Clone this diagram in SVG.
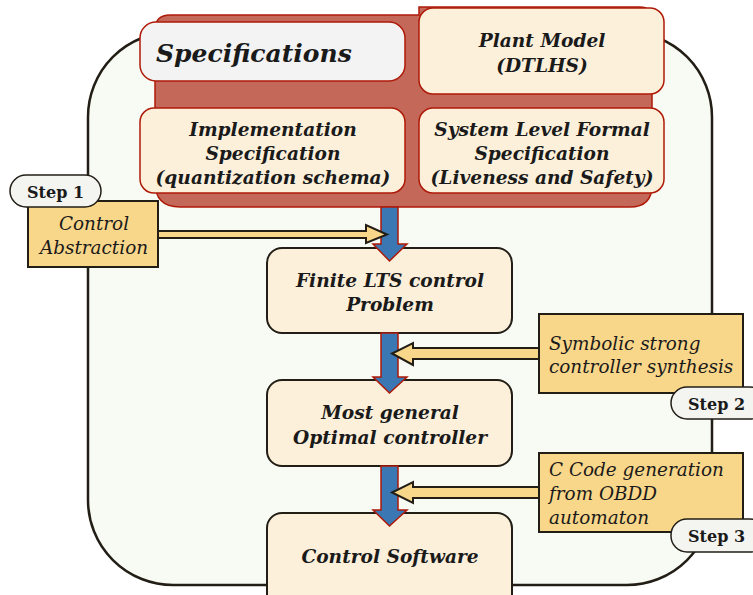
<svg xmlns="http://www.w3.org/2000/svg" width="753" height="595" viewBox="0 0 753 595">
<defs>
<style>
.bg{fill:#F8FBF4;stroke:#221E16;stroke-width:2.5}
.red{fill:#C4685A;stroke:#AE1A08;stroke-width:1.5}
.spec{fill:#F3F3F3;stroke:#AE1A08;stroke-width:1.5}
.rbox{fill:#FCF0DB;stroke:#AE1A08;stroke-width:1.5}
.box{fill:#FCF0DB;stroke:#221E16;stroke-width:2}
.ybox{fill:#F8D68A;stroke:#221E16;stroke-width:2}
.pill{fill:#F4F4F1;stroke:#221E16;stroke-width:1.5}
.blue{fill:#3B77B3;stroke:#AE1A08;stroke-width:1.5}
.yarr{fill:#F8D68A;stroke:#221E16;stroke-width:2}
.bi{font-family:"DejaVu Serif",serif;font-weight:bold;font-style:italic;font-size:18.6px;fill:#1A1A1A;text-anchor:middle}
.it{font-family:"DejaVu Serif",serif;font-style:italic;font-size:18.4px;fill:#1A1A1A}
.step{font-family:"DejaVu Serif",serif;font-weight:bold;font-size:16px;fill:#1A1A1A}
</style>
</defs>
<rect class="bg" x="88" y="32" width="624" height="553" rx="85" ry="85"/>
<g id="spec-panel">
<path class="red" d="M170,15 H419 V7 H640 Q652,7 652,20 V185 Q652,207 630,207 H180 Q155,207 155,182 V30 Q155,15 170,15 Z"/>
</g>
<g id="specifications">
<rect class="spec" x="140" y="22" width="265" height="59" rx="16"/>
<text class="bi" x="156" y="62" style="font-size:25px;text-anchor:start">Specifications</text>
</g>
<g id="plant-model">
<rect class="rbox" x="419" y="8" width="245" height="86" rx="14"/>
<text class="bi" x="542" y="47">Plant Model</text>
<text class="bi" x="542" y="72">(DTLHS)</text>
</g>
<g id="implementation-spec">
<rect class="rbox" x="140" y="108" width="265" height="85" rx="14"/>
<text class="bi" x="273" y="136">Implementation</text>
<text class="bi" x="273" y="160">Specification</text>
<text class="bi" x="273" y="184">(quantization schema)</text>
</g>
<g id="system-spec">
<rect class="rbox" x="419" y="108" width="245" height="85" rx="14"/>
<text class="bi" x="542" y="136">System Level Formal</text>
<text class="bi" x="542" y="160">Specification</text>
<text class="bi" x="542" y="184">(Liveness and Safety)</text>
</g>
<g id="finite-lts">
<rect class="box" x="267" y="248" width="245" height="85" rx="15"/>
<text class="bi" x="390" y="287">Finite LTS control</text>
<text class="bi" x="390" y="311">Problem</text>
</g>
<g id="most-general">
<rect class="box" x="267" y="380" width="245" height="86" rx="15"/>
<text class="bi" x="390" y="419">Most general</text>
<text class="bi" x="390" y="444">Optimal controller</text>
</g>
<g id="control-software">
<rect class="box" x="267" y="513" width="245" height="100" rx="15"/>
<text class="bi" x="390" y="563">Control Software</text>
</g>
<g id="connectors">
<path class="blue" d="M381,207 H398 V244 H407 L389.5,261 L373,244 H381 Z"/>
<path class="blue" d="M381,333 H398 V377 H407 L389.5,393 L373,377 H381 Z"/>
<path class="blue" d="M381,466 H398 V510 H407 L389.5,526 L373,510 H381 Z"/>
<path class="yarr" d="M158,231 H366 V225 L387,234.5 L366,243 V238 H158 Z"/>
<path class="yarr" d="M539,348 H413 V343 L392,353.5 L413,365 V359 H539 Z"/>
<path class="yarr" d="M539,487 H413 V482 L392,492.5 L413,503 V498 H539 Z"/>
</g>
<g id="control-abstraction">
<rect class="ybox" x="28" y="201" width="130" height="66"/>
<text class="it" x="94" y="230" text-anchor="middle">Control</text>
<text class="it" x="94" y="254" text-anchor="middle">Abstraction</text>
</g>
<g id="step1">
<rect class="pill" x="10" y="175" width="91" height="32" rx="16"/>
<text class="step" x="27" y="198">Step 1</text>
</g>
<g id="symbolic-synthesis">
<rect class="ybox" x="539" y="314" width="204" height="79"/>
<text class="it" x="549" y="350">Symbolic strong</text>
<text class="it" x="549" y="373">controller synthesis</text>
</g>
<g id="step2">
<rect class="pill" x="671" y="387" width="95" height="32" rx="16"/>
<text class="step" x="688" y="410">Step 2</text>
</g>
<g id="code-generation">
<rect class="ybox" x="539" y="453" width="204" height="79"/>
<text class="it" x="549" y="476">C Code generation</text>
<text class="it" x="549" y="500">from OBDD</text>
<text class="it" x="549" y="524">automaton</text>
</g>
<g id="step3">
<rect class="pill" x="671" y="519" width="95" height="33" rx="16"/>
<text class="step" x="688" y="542">Step 3</text>
</g>
</svg>
